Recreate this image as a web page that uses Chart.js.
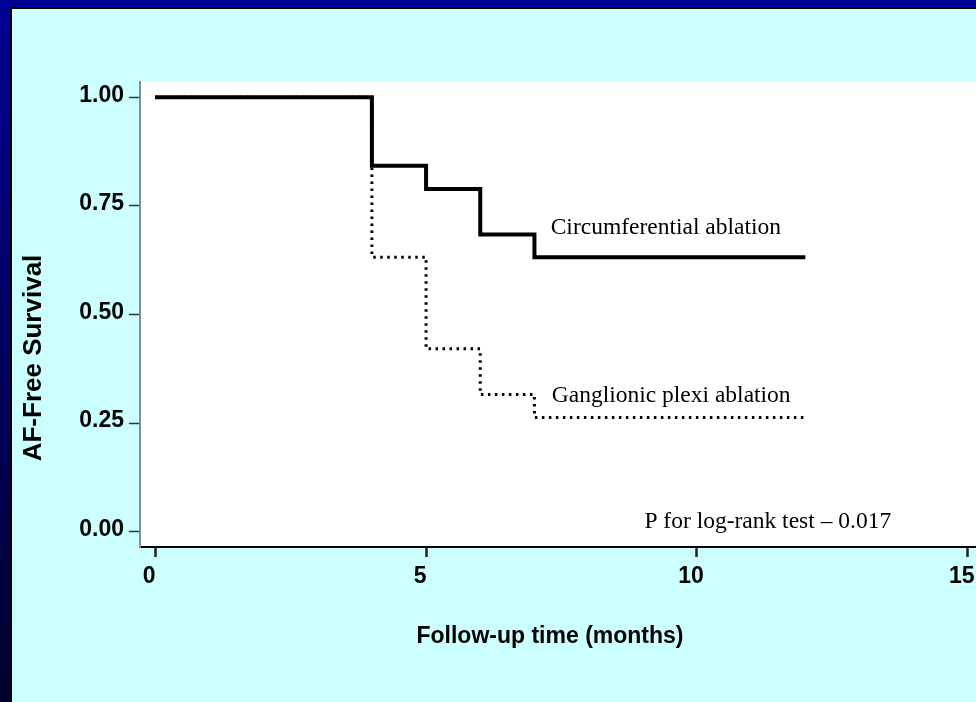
<!DOCTYPE html>
<html>
<head>
<meta charset="utf-8">
<title>AF-Free Survival</title>
<script src="https://cdn.jsdelivr.net/npm/chart.js@4.4.1/dist/chart.umd.min.js"></script>
<style>
  html, body { margin: 0; padding: 0; }
  body {
    width: 976px; height: 702px; overflow: hidden; position: relative;
    background: linear-gradient(to bottom, #000092, #00002e);
  }
  #panel {
    position: absolute; left: 10px; top: 7px; right: 0; bottom: 0;
    background: #ccffff;
    border-top: 2px solid #000; border-left: 2px solid #000;
  }
  #km { position: absolute; left: 0; top: 0; }
</style>
</head>
<body>
<div id="panel"></div>
<canvas id="km" width="976" height="702"></canvas>
<script>
// follow-up times (months) where the survival curves step down
var months = [0, 4, 5, 6, 7, 12];
var circumferential = [1.00, 0.842, 0.789, 0.684, 0.632, 0.632];
var ganglionic = [1.00, 0.632, 0.421, 0.316, 0.263, 0.263];
var xTicks = [0, 5, 10, 15];
var yTicks = [0, 0.25, 0.5, 0.75, 1];

var notes = [
  { text: "Circumferential ablation", x: 7.3, y: 0.70 },
  { text: "Ganglionic plexi ablation", x: 7.32, y: 0.313 },
  { text: "P for log-rank test \u2013 0.017", x: 9.03, y: 0.024 }
];

function toPoints(ys) {
  var pts = [];
  for (var i = 0; i < months.length; i++) {
    pts.push({ x: months[i], y: ys[i] });
  }
  return pts;
}

// white plotting area behind the curves
var plotBg = {
  id: "plotBg",
  beforeDraw: function (chart) {
    var a = chart.chartArea, ctx = chart.ctx;
    ctx.save();
    ctx.fillStyle = "#ffffff";
    ctx.fillRect(a.left, a.top, a.right - a.left, a.bottom - a.top);
    ctx.restore();
  }
};

// curve labels, p-value and the two axis titles
var textLayer = {
  id: "textLayer",
  afterDraw: function (chart) {
    var ctx = chart.ctx;
    var xs = chart.scales.x, ys = chart.scales.y;
    ctx.save();
    ctx.fillStyle = "#000";
    ctx.font = '23.5px "Liberation Serif", "Times New Roman", serif';
    ctx.textAlign = "left";
    ctx.textBaseline = "middle";
    notes.forEach(function (n) {
      ctx.fillText(n.text, xs.getPixelForValue(n.x), ys.getPixelForValue(n.y));
    });

    ctx.font = 'bold 23px "Liberation Sans", Arial, sans-serif';
    ctx.textAlign = "center";
    ctx.fillText("Follow-up time (months)", 550, 637);

    ctx.translate(34, 358);
    ctx.rotate(-Math.PI / 2);
    ctx.font = 'bold 26px "Liberation Sans", Arial, sans-serif';
    ctx.fillText("AF-Free Survival", 0, 0);
    ctx.restore();
  }
};

var tickFont = { family: '"Liberation Sans", Arial, sans-serif', size: 23, weight: "bold" };

new Chart(document.getElementById("km"), {
  type: "line",
  data: {
    datasets: [
      {
        label: "Circumferential ablation",
        data: toPoints(circumferential),
        stepped: true,
        borderColor: "#000",
        borderWidth: 4,
        pointRadius: 0,
        fill: false
      },
      {
        label: "Ganglionic plexi ablation",
        data: toPoints(ganglionic),
        stepped: true,
        borderColor: "#000",
        borderWidth: 3,
        borderDash: [2.5, 4.5],
        pointRadius: 0,
        fill: false
      }
    ]
  },
  options: {
    responsive: false,
    animation: false,
    layout: { padding: { top: 82, left: 0, right: 0, bottom: 0 } },
    plugins: { legend: { display: false }, tooltip: { enabled: false } },
    scales: {
      x: {
        type: "linear",
        min: -0.28,
        max: 15.15,
        afterBuildTicks: function (s) { s.ticks = xTicks.map(function (v) { return { value: v }; }); },
        afterFit: function (s) { s.height = 155; s.paddingLeft = 0; s.paddingRight = 0; },
        border: { display: true, color: "#000", width: 2 },
        grid: { drawOnChartArea: false, drawTicks: true, tickLength: 10, tickWidth: 2.5, tickColor: "#222" },
        ticks: { font: tickFont, color: "#000", padding: 6, labelOffset: -6, maxRotation: 0,
                 callback: function (v) { return v; } }
      },
      y: {
        type: "linear",
        min: -0.035,
        max: 1.035,
        afterBuildTicks: function (s) { s.ticks = yTicks.map(function (v) { return { value: v }; }); },
        afterFit: function (s) { s.width = 140; s.paddingTop = 0; s.paddingBottom = 0; },
        border: { display: true, color: "#8a8a8a", width: 2 },
        grid: { drawOnChartArea: false, drawTicks: true, tickLength: 11, tickWidth: 1.5, tickColor: "#333" },
        ticks: { font: tickFont, color: "#000", padding: 5, labelOffset: -2,
                 callback: function (v) { return v.toFixed(2); } }
      }
    }
  },
  plugins: [plotBg, textLayer]
});
</script>
</body>
</html>
